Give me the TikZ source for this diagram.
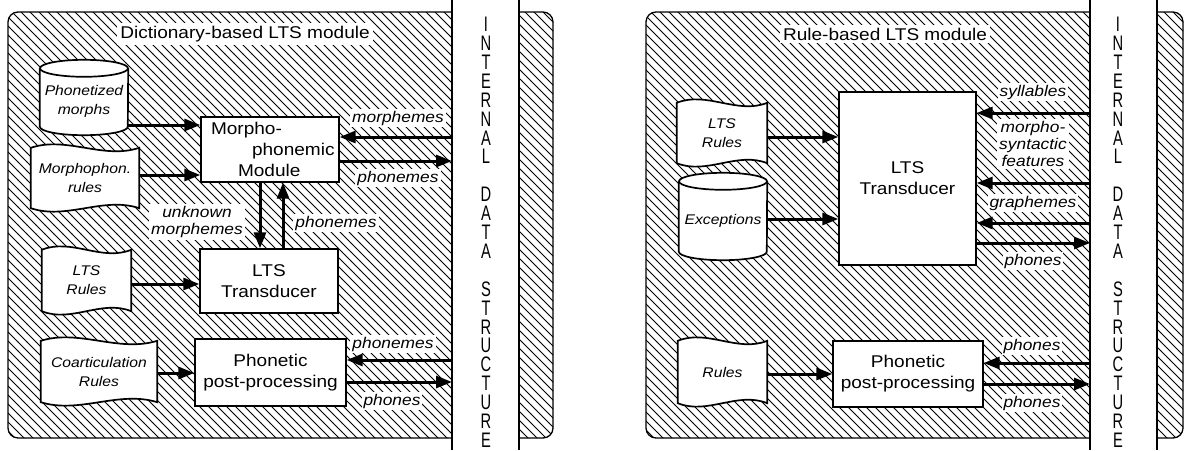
\documentclass[tikz,border=0pt]{standalone}
\usepackage{fontspec}
\setmainfont{Liberation Sans}[FakeStretch=1.12]
\newfontfamily\vfont{Liberation Sans}[FakeStretch=0.7]
\usetikzlibrary{patterns,arrows.meta,calc}
\pgfdeclarepatternformonly{myhatch}{\pgfqpoint{-1pt}{-1pt}}{\pgfqpoint{10pt}{10pt}}{\pgfqpoint{9pt}{9pt}}{%
  \pgfsetlinewidth{0.8pt}%
  \pgfpathmoveto{\pgfqpoint{0pt}{9pt}}%
  \pgfpathlineto{\pgfqpoint{9.1pt}{-0.1pt}}%
  \pgfusepath{stroke}}
\pgfdeclarelayer{back}
\pgfdeclarelayer{bg}
\pgfsetlayers{back,bg,main}
\tikzset{
  hatch/.style={draw=black, line width=1.3pt, pattern=myhatch},
  dsline/.style={line width=1.3pt},
  box/.style={draw, fill=white, line width=1.3pt, inner sep=0pt, align=center, font=\fontsize{17}{21}\selectfont},
  doctext/.style={inner sep=0pt, align=center, font=\fontsize{14}{19}\selectfont\itshape},
  docline/.style={draw, fill=white, line width=1.7pt},
  lab/.style={fill=white, inner sep=2pt, align=center, font=\fontsize{15.5}{17}\selectfont\itshape},
  ttl/.style={fill=white, inner sep=3pt, font=\fontsize{17}{20}\selectfont},
  arr/.style={line width=3pt, -{Triangle[length=16pt,width=12pt]}},
  vtext/.style={inner sep=0pt, align=center, font=\vfont\fontsize{21}{18.9}\selectfont}
}
\newcommand\wavedoc[1]{%
  \begin{pgfonlayer}{bg}
  \draw[docline] (#1.north west)
    .. controls ($(#1.north west)!0.33!(#1.north east)+(0,-12)$) and ($(#1.north west)!0.67!(#1.north east)+(0,12)$) .. (#1.north east)
    -- (#1.south east)
    .. controls ($(#1.south west)!0.67!(#1.south east)+(0,-12)$) and ($(#1.south west)!0.33!(#1.south east)+(0,12)$) .. (#1.south west)
    -- cycle;
  \end{pgfonlayer}}
\newcommand\cylshape[2]{%
  \begin{pgfonlayer}{bg}
  \draw[docline] (#1.north west) -- ($(#1.south west)+(0,-8.5)$) arc[start angle=180,end angle=0,x radius=#2,y radius=8.5] -- (#1.north east);
  \draw[docline] (#1.north) ellipse[x radius=#2, y radius=8.5];
  \end{pgfonlayer}}
\newcommand\mline[2]{\makebox[126pt][l]{\hspace*{#1}#2}}
\begin{document}
\begin{tikzpicture}[x=1pt,y=-1pt]
\useasboundingbox (0,0) rectangle (1186,450);
% ---------- backgrounds ----------
\begin{pgfonlayer}{back}
\begin{scope}
  \clip (0,0) rectangle (452,450);
  \path[hatch, rounded corners=10pt] (8,12) rectangle (480,438);
\end{scope}
\begin{scope}
  \clip (519,0) rectangle (600,450);
  \path[hatch, rounded corners=10pt] (500,12) rectangle (553,438);
\end{scope}
\begin{scope}
  \clip (600,0) rectangle (1090,450);
  \path[hatch, rounded corners=10pt] (646,12) rectangle (1110,438);
\end{scope}
\begin{scope}
  \clip (1157,0) rectangle (1186,450);
  \path[hatch, rounded corners=10pt] (1130,12) rectangle (1183,438);
\end{scope}
\end{pgfonlayer}
\coordinate (dsL) at (452,0);
\coordinate (dsLb) at (452,450);
\coordinate (dsL2) at (519,0);
\coordinate (dsL2b) at (519,450);
\coordinate (dsR) at (1090,0);
\coordinate (dsRb) at (1090,450);
\coordinate (dsR2) at (1157,0);
\coordinate (dsR2b) at (1157,450);
\draw[dsline] (dsL) -- (dsLb);
\draw[dsline] (dsL2) -- (dsL2b);
\draw[dsline] (dsR) -- (dsRb);
\draw[dsline] (dsR2) -- (dsR2b);
\node[vtext, anchor=north] (vl) at (486,17) {I\\N\\T\\E\\R\\N\\A\\L\\[18.9pt]D\\A\\T\\A\\[18.9pt]S\\T\\R\\U\\C\\T\\U\\R\\E};
\node[vtext, anchor=north] (vr) at (1118,17) {I\\N\\T\\E\\R\\N\\A\\L\\[18.9pt]D\\A\\T\\A\\[18.9pt]S\\T\\R\\U\\C\\T\\U\\R\\E};
% ---------- left panel ----------
\node[ttl] (tl) at (245,34) {Dictionary-based LTS module};
\node[doctext, minimum width=88pt, minimum height=66.5pt] (pm) at (84,101.75) {Phonetized\\morphs};
\cylshape{pm}{44}
\node[doctext, minimum width=108pt, minimum height=60pt] (mr) at (85,178) {Morphophon.\\rules};
\wavedoc{mr}
\node[doctext, minimum width=89pt, minimum height=61pt] (lr) at (86.5,280.5) {LTS\\Rules};
\wavedoc{lr}
\node[doctext, minimum width=116pt, minimum height=61pt] (cr) at (99,371.5) {Coarticulation\\Rules};
\wavedoc{cr}
\node[box, minimum width=138pt, minimum height=65pt] (mm) at (270,149.5) {\mline{4pt}{Morpho-}\\\mline{45pt}{phonemic}\\\mline{31pt}{Module}};
\node[box, minimum width=138pt, minimum height=64pt] (lt) at (269,281) {LTS\\Transducer};
\node[box, minimum width=151pt, minimum height=67pt] (pp) at (270.5,372.5) {Phonetic\\post-processing};
\coordinate (a1) at (0,125);
\coordinate (a2) at (0,175);
\coordinate (a3) at (0,137);
\coordinate (a4) at (0,161);
\coordinate (a5) at (0,284);
\coordinate (a6) at (0,373);
\coordinate (a7) at (0,360);
\coordinate (a8) at (0,382);
\coordinate (vd) at (260,0);
\coordinate (vu) at (283,0);
\draw[arr] (pm.east |- a1) -- (mm.west |- a1);
\draw[arr] (mr.east |- a2) -- (mm.west |- a2);
\draw[arr] (dsL |- a3) -- (mm.east |- a3);
\draw[arr] (mm.east |- a4) -- (dsL |- a4);
\draw[arr] (mm.south -| vd) -- (lt.north -| vd);
\draw[arr] (lt.north -| vu) -- (mm.south -| vu);
\draw[arr] (lr.east |- a5) -- (lt.west |- a5);
\draw[arr] (cr.east |- a6) -- (pp.west |- a6);
\draw[arr] (dsL |- a7) -- (pp.east |- a7);
\draw[arr] (pp.east |- a8) -- (dsL |- a8);
\node[lab] (l1) at (398,118) {morphemes};
\node[lab] (l2) at (398,178) {phonemes};
\node[lab] (l3) at (197,222) {unknown\\morphemes};
\node[lab] (l4) at (336,223) {phonemes};
\node[lab] (l5) at (393,344) {phonemes};
\node[lab] (l6) at (392,401) {phones};
% ---------- right panel ----------
\node[ttl] (tr) at (885,34) {Rule-based LTS module};
\node[doctext, minimum width=90pt, minimum height=60pt] (rlr) at (722,133) {LTS\\Rules};
\wavedoc{rlr}
\node[doctext, minimum width=88pt, minimum height=78.5pt] (ex) at (723,220.75) {Exceptions};
\cylshape{ex}{44}
\node[doctext, minimum width=89pt, minimum height=62pt] (rr) at (722.5,372) {Rules};
\wavedoc{rr}
\node[box, minimum width=137pt, minimum height=173pt] (rlt) at (907.5,178.5) {LTS\\Transducer};
\node[box, minimum width=150pt, minimum height=66pt] (rpp) at (908,374) {Phonetic\\post-processing};
\coordinate (b1) at (0,137);
\coordinate (b2) at (0,219);
\coordinate (b3) at (0,113);
\coordinate (b4) at (0,183);
\coordinate (b5) at (0,223);
\coordinate (b6) at (0,243);
\coordinate (b7) at (0,374);
\coordinate (b8) at (0,363);
\coordinate (b9) at (0,384);
\draw[arr] (rlr.east |- b1) -- (rlt.west |- b1);
\draw[arr] (ex.east |- b2) -- (rlt.west |- b2);
\draw[arr] (dsR |- b3) -- (rlt.east |- b3);
\draw[arr] (dsR |- b4) -- (rlt.east |- b4);
\draw[arr] (dsR |- b5) -- (rlt.east |- b5);
\draw[arr] (rlt.east |- b6) -- (dsR |- b6);
\draw[arr] (rr.east |- b7) -- (rpp.west |- b7);
\draw[arr] (dsR |- b8) -- (rpp.east |- b8);
\draw[arr] (rpp.east |- b9) -- (dsR |- b9);
\node[lab] (m1) at (1033,92) {syllables};
\node[lab] (m2) at (1033,144) {morpho-\\syntactic\\features};
\node[lab] (m3) at (1033,203) {graphemes};
\node[lab] (m4) at (1033,261) {phones};
\node[lab] (m5) at (1032,346) {phones};
\node[lab] (m6) at (1032,403) {phones};
\end{tikzpicture}
\end{document}
